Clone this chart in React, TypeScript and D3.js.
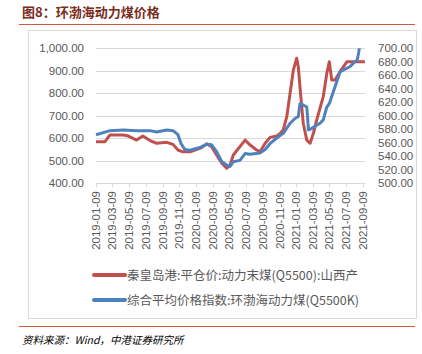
import { useEffect, useRef } from "react";
import * as d3 from "d3";

// 秦皇岛港:平仓价:动力末煤(Q5500):山西产 (left axis)
const redDates = [
    "2019-01-09", "2019-02-11", "2019-03-01", "2019-04-18", "2019-05-07", "2019-06-06",
    "2019-06-29", "2019-07-25", "2019-08-18", "2019-09-24", "2019-10-17", "2019-11-04",
    "2019-11-22", "2019-12-18", "2020-01-23", "2020-02-17", "2020-03-06", "2020-03-24",
    "2020-04-12", "2020-04-30", "2020-05-12", "2020-05-24", "2020-06-17", "2020-07-06",
    "2020-07-24", "2020-08-17", "2020-08-29", "2020-09-17", "2020-10-05", "2020-10-29",
    "2020-11-10", "2020-11-22", "2020-12-05", "2020-12-17", "2020-12-29", "2021-01-10",
    "2021-01-16", "2021-01-22", "2021-02-03", "2021-02-16", "2021-02-28", "2021-03-12",
    "2021-03-24", "2021-04-05", "2021-04-17", "2021-04-30", "2021-05-09", "2021-05-18",
    "2021-05-30", "2021-06-17", "2021-07-12", "2021-09-16",
];
const redValues = [
    585, 585, 615, 615, 610, 592,
    610, 590, 578, 582, 573, 548,
    540, 540, 555, 575, 563, 526,
    489, 467, 481, 526, 563, 592,
    570, 548, 540, 578, 604, 610,
    620, 637, 696, 800, 903, 956,
    918, 829, 667, 592, 578, 622,
    681, 733, 785, 889, 940, 859,
    859, 896, 940, 940,
];

// 综合平均价格指数:环渤海动力煤(Q5500K) (right axis)
const blueDates = [
    "2019-01-09", "2019-03-01", "2019-04-18", "2019-06-06", "2019-07-25", "2019-08-18",
    "2019-09-24", "2019-10-17", "2019-11-04", "2019-11-15", "2019-11-29", "2019-12-18",
    "2020-01-23", "2020-02-17", "2020-03-06", "2020-03-24", "2020-04-12", "2020-04-30",
    "2020-05-12", "2020-05-24", "2020-06-17", "2020-07-06", "2020-07-24", "2020-08-29",
    "2020-09-17", "2020-10-05", "2020-10-29", "2020-11-22", "2020-12-17", "2021-01-04",
    "2021-01-16", "2021-01-22", "2021-02-03", "2021-02-16", "2021-02-22", "2021-03-05",
    "2021-03-24", "2021-04-05", "2021-04-17", "2021-04-30", "2021-05-09", "2021-05-30",
    "2021-06-17", "2021-07-24", "2021-08-05", "2021-08-19", "2021-08-24", "2021-09-01",
    "2021-09-08",
];
const blueValues = [
    572, 578, 579, 578, 578, 576,
    579, 578, 572, 559, 550, 549,
    553, 558, 557, 547, 532, 527,
    525, 532, 534, 544, 543, 545,
    550, 559, 567, 574, 589, 596,
    599, 618, 616, 613, 579, 581,
    586, 589, 594, 613, 618, 643,
    665, 673, 678, 683, 693, 715,
    735,
];

const xTickLabels = [
    "2019-01-09", "2019-03-09", "2019-05-09", "2019-07-09", "2019-09-09", "2019-11-09",
    "2020-01-09", "2020-03-09", "2020-05-09", "2020-07-09", "2020-09-09", "2020-11-09",
    "2021-01-09", "2021-03-09", "2021-05-09", "2021-07-09", "2021-09-09",
];
const leftTicks = [400, 500, 600, 700, 800, 900, 1000];
const rightTicks = [500, 520, 540, 560, 580, 600, 620, 640, 660, 680, 700];

const seriesNames = [
    "秦皇岛港:平仓价:动力末煤(Q5500):山西产",
    "综合平均价格指数:环渤海动力煤(Q5500K)",
];
const seriesColors = ["#c0504d", "#4f81bd"];

const numFont = "'Liberation Sans', Arial, sans-serif";
const cjkFont = "'Noto Sans CJK SC', 'Liberation Sans', sans-serif";

export default function App() {
    const svgRef = useRef<SVGSVGElement>(null);

    useEffect(() => {
        if (!svgRef.current) return;
        const width = 422;
        const height = 354;
        const svg = d3.select(svgRef.current);
        svg.selectAll("*").remove();
        svg.attr("width", width).attr("height", height);

        const parse = d3.timeParse("%Y-%m-%d");
        const fmt = d3.format(",.2f");

        const plot = { left: 96, right: 363, top: 48.3, bottom: 183.3 };

        const x = d3
            .scaleTime()
            .domain([parse(xTickLabels[0])!, parse(xTickLabels[xTickLabels.length - 1])!])
            .range([plot.left, plot.right]);
        const yL = d3.scaleLinear().domain([400, 1000]).range([plot.bottom, plot.top]);
        const yR = d3.scaleLinear().domain([500, 700]).range([plot.bottom, plot.top]);

        svg.append("rect").attr("width", width).attr("height", height).attr("fill", "#fff");

        // Title
        svg.append("text")
            .attr("x", 22)
            .attr("y", 17)
            .attr("font-family", cjkFont)
            .attr("font-size", "13px")
            .attr("font-weight", "bold")
            .attr("fill", "#7b2c22")
            .text("图8：环渤海动力煤价格");

        svg.append("line")
            .attr("x1", 19).attr("x2", 415).attr("y1", 24.5).attr("y2", 24.5)
            .attr("stroke", "#cd5c3c").attr("stroke-width", 1.2);

        // Chart frame
        svg.append("rect")
            .attr("x", 28.5).attr("y", 30.5).attr("width", 388).attr("height", 288)
            .attr("fill", "none").attr("stroke", "#d9d9d9");

        // Gridlines
        svg.append("g")
            .selectAll("line")
            .data(leftTicks.slice(1))
            .enter()
            .append("line")
            .attr("x1", plot.left).attr("x2", 365)
            .attr("y1", (d) => Math.round(yL(d)) + 0.5)
            .attr("y2", (d) => Math.round(yL(d)) + 0.5)
            .attr("stroke", "#d9d9d9");

        // X axis line and ticks
        svg.append("line")
            .attr("x1", plot.left).attr("x2", 365)
            .attr("y1", Math.round(plot.bottom) + 0.5).attr("y2", Math.round(plot.bottom) + 0.5)
            .attr("stroke", "#d9d9d9");

        const xg = svg.append("g");
        xTickLabels.forEach((t) => {
            const px = x(parse(t)!);
            xg.append("line")
                .attr("x1", Math.round(px) + 0.5).attr("x2", Math.round(px) + 0.5)
                .attr("y1", plot.bottom).attr("y2", plot.bottom + 4)
                .attr("stroke", "#d9d9d9");
            xg.append("text")
                .attr("transform", `translate(${px},191) rotate(-90)`)
                .attr("text-anchor", "end")
                .attr("dy", "0.35em")
                .attr("font-family", numFont)
                .attr("font-size", "11.5px")
                .attr("fill", "#595959")
                .text(t);
        });

        // Left axis labels
        svg.append("g")
            .selectAll("text")
            .data(leftTicks)
            .enter()
            .append("text")
            .attr("x", 84)
            .attr("y", (d) => yL(d))
            .attr("dy", "0.35em")
            .attr("text-anchor", "end")
            .attr("font-family", numFont)
            .attr("font-size", "11.5px")
            .attr("fill", "#595959")
            .text((d) => fmt(d));

        // Right axis labels
        svg.append("g")
            .selectAll("text")
            .data(rightTicks)
            .enter()
            .append("text")
            .attr("x", 378)
            .attr("y", (d) => yR(d))
            .attr("dy", "0.35em")
            .attr("font-family", numFont)
            .attr("font-size", "11.5px")
            .attr("fill", "#595959")
            .text((d) => fmt(d));

        // Clip
        svg.append("clipPath")
            .attr("id", "plot-clip")
            .append("rect")
            .attr("x", 80).attr("y", plot.top)
            .attr("width", 300).attr("height", plot.bottom - plot.top + 10);

        const redPts = redDates.map((d, i) => [x(parse(d)!), yL(redValues[i])] as [number, number]);
        const bluePts = blueDates.map((d, i) => [x(parse(d)!), yR(blueValues[i])] as [number, number]);
        const line = d3.line();

        const lines = svg.append("g").attr("clip-path", "url(#plot-clip)");
        lines.append("path")
            .attr("d", line(redPts))
            .attr("fill", "none")
            .attr("stroke", seriesColors[0])
            .attr("stroke-width", 3)
            .attr("stroke-linejoin", "round");
        lines.append("path")
            .attr("d", line(bluePts))
            .attr("fill", "none")
            .attr("stroke", seriesColors[1])
            .attr("stroke-width", 3)
            .attr("stroke-linejoin", "round");

        // Legend
        seriesNames.forEach((name, i) => {
            const ly = 275 + i * 25;
            svg.append("line")
                .attr("x1", 94).attr("x2", 125).attr("y1", ly).attr("y2", ly)
                .attr("stroke", seriesColors[i])
                .attr("stroke-width", 4)
                .attr("stroke-linecap", "round");
            svg.append("text")
                .attr("x", 127)
                .attr("y", ly)
                .attr("dy", "0.36em")
                .attr("font-family", cjkFont)
                .attr("font-size", "12.5px")
                .attr("fill", "#595959")
                .text(name);
        });

        // Footer
        svg.append("line")
            .attr("x1", 19).attr("x2", 415).attr("y1", 326.5).attr("y2", 326.5)
            .attr("stroke", "#cd5c3c").attr("stroke-width", 1.2);
        svg.append("text")
            .attr("x", 22)
            .attr("y", 344)
            .attr("font-family", cjkFont)
            .attr("font-size", "10.5px")
            .attr("font-style", "italic")
            .attr("fill", "#000")
            .text("资料来源：Wind，中港证券研究所");
    }, []);

    return (
        <svg
            ref={svgRef}
            style={{ position: "absolute", left: 0, top: 0, display: "block" }}
        ></svg>
    );
}
